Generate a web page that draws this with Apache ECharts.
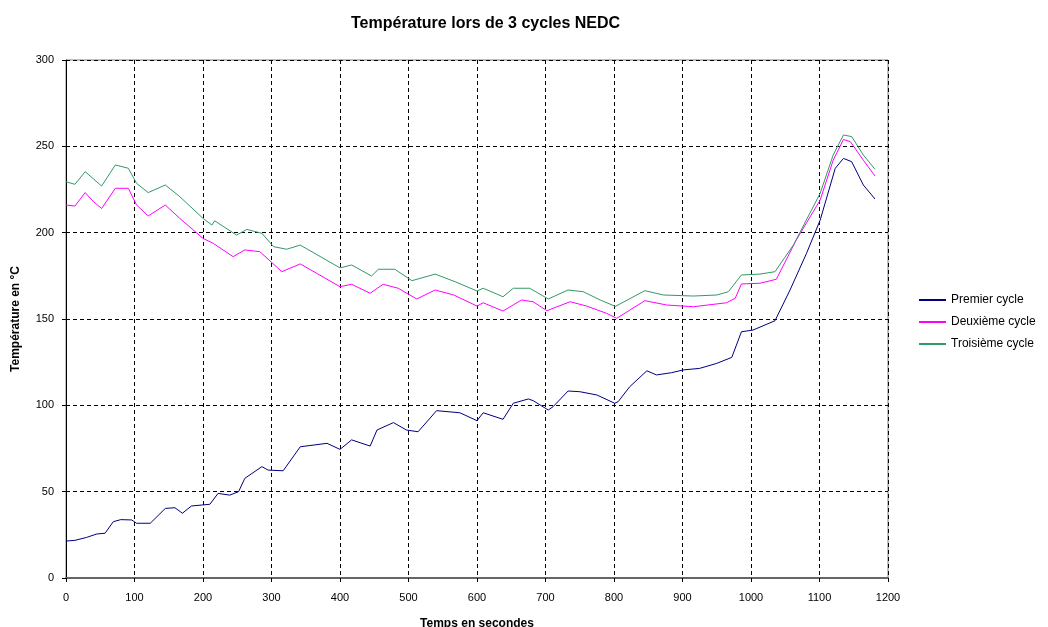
<!DOCTYPE html>
<html>
<head>
	<meta charset="utf-8">
	<title>Température lors de 3 cycles NEDC</title>
	<script type="text/javascript" src="https://cdn.jsdelivr.net/npm/echarts@6/dist/echarts.min.js"></script>
</head>
<body style="margin:0">
	<div id="main" style="width: 1048px;height: 627px"></div>
	<script type="text/javascript">
	// [temps (s), température (°C)]
	const premierCycle = [
		[0, 21.4], [13, 21.8], [30, 23.5], [45, 25.5], [57, 25.9], [69, 32.6], [80, 33.8], [96, 33.6],
		[103, 31.7], [123, 31.7], [145, 40.3], [159, 40.7], [170, 37.5], [183, 41.7], [210, 42.7],
		[222, 49], [239, 48], [252, 50], [261, 57.7], [286, 64.5], [295, 62.5], [317, 62.1],
		[342, 76], [381, 78], [400, 74.5], [417, 80], [444, 76.4], [454, 85.7], [478, 90],
		[497, 85.7], [514, 84.7], [541, 96.9], [575, 95.7], [600, 91.1], [609, 95.7], [638, 91.9],
		[653, 101.2], [675, 103.7], [682, 102.7], [704, 97.3], [711, 99.2], [733, 108.3],
		[750, 107.9], [775, 106], [801, 101.2], [806, 102.1], [823, 110.8], [848, 120],
		[862, 117.6], [884, 118.9], [901, 120.5], [925, 121.4], [950, 124.3], [972, 127.8],
		[986, 142.6], [1003, 143.6], [1035, 149], [1057, 166.8], [1081, 188], [1101, 207.3],
		[1123, 237.3], [1135, 243], [1147, 241.1], [1164, 227.6], [1181, 219.5]
	];
	const deuxiemeCycle = [
		[0, 216], [13, 215.4], [28, 223.2], [40, 218], [52, 214], [72, 225.7], [91, 225.7],
		[103, 216], [120, 209.7], [145, 216], [166, 208.3], [200, 196.7], [215, 193.8],
		[244, 186.1], [261, 190], [283, 189], [315, 177.4], [342, 181.9], [400, 168.7],
		[417, 170.1], [444, 164.9], [463, 170.1], [485, 167.8], [512, 161.6], [539, 166.8],
		[566, 163.9], [600, 157.5], [609, 159.4], [638, 154.6], [665, 161], [682, 160],
		[702, 154.8], [736, 160], [760, 157.5], [789, 153.3], [804, 150.4], [845, 160.6],
		[877, 158.1], [916, 157.1], [964, 159.4], [977, 162], [986, 170.3], [1013, 170.7],
		[1037, 173], [1066, 195.7], [1101, 218.9], [1120, 242], [1135, 254], [1145, 252.7],
		[1164, 242], [1181, 232.8]
	];
	const troisiemeCycle = [
		[0, 229.5], [13, 228], [28, 235.3], [52, 227], [72, 239.2], [91, 237.3], [103, 228.6],
		[120, 223.2], [145, 227.6], [166, 220.9], [200, 208.3], [213, 204.4], [217, 206.9],
		[249, 198.6], [264, 201.9], [286, 199.6], [303, 191.9], [322, 190.4], [342, 192.8],
		[400, 179.6], [417, 181.3], [446, 174.9], [456, 178.8], [480, 178.8], [505, 172.2],
		[539, 176], [568, 171.6], [600, 166.2], [609, 167.8], [638, 162.9], [653, 167.8],
		[677, 167.8], [704, 161.6], [733, 166.8], [755, 165.8], [780, 161], [802, 157.3],
		[845, 166.4], [872, 163.9], [916, 163.3], [950, 163.9], [967, 165.8], [986, 175.5],
		[1013, 176], [1035, 177.4], [1062, 192.9], [1101, 222.8], [1120, 245], [1135, 256.6],
		[1147, 255.6], [1164, 245], [1181, 236.7]
	];
	const nomsSeries = ['Premier cycle', 'Deuxième cycle', 'Troisième cycle'];
	const couleurs = ['#000080', '#ff00ff', '#339966'];

	const chart = echarts.init(document.getElementById('main'));

	const police = 'Arial, "Liberation Sans", sans-serif';
	const grille = {
		show: true,
		lineStyle: { color: '#000', type: [4, 3], width: 1 }
	};

	const option = {
		backgroundColor: '#fff',
		animation: false,
		textStyle: { fontFamily: police },
		title: {
			text: 'Température lors de 3 cycles NEDC',
			left: 346,
			top: 11,
			textStyle: { fontSize: 16, fontWeight: 'bold', color: '#000', fontFamily: police }
		},
		legend: {
			orient: 'vertical',
			left: 914,
			top: 289,
			itemWidth: 27,
			itemHeight: 2,
			itemGap: 10,
			icon: 'rect',
			textStyle: { fontSize: 12, color: '#000', fontFamily: police },
			data: nomsSeries
		},
		grid: {
			left: 66,
			right: 160,
			top: 60,
			bottom: 49,
			outerBoundsMode: 'none',
			containLabel: false,
			show: true,
			borderColor: '#808080',
			borderWidth: 1
		},
		xAxis: {
			type: 'value',
			min: 0,
			max: 1200,
			interval: 100,
			name: 'Temps en secondes',
			nameLocation: 'middle',
			nameGap: 40,
			nameTextStyle: { fontSize: 12, fontWeight: 'bold', color: '#000' },
			axisLine: { lineStyle: { color: '#666', width: 2 } },
			axisTick: { length: 4, lineStyle: { color: '#000' } },
			axisLabel: { fontSize: 11, color: '#000', margin: 14, formatter: function (v) { return String(v); } },
			splitLine: grille
		},
		yAxis: {
			type: 'value',
			min: 0,
			max: 300,
			interval: 50,
			name: 'Température en °C',
			nameLocation: 'middle',
			nameGap: 44,
			nameTextStyle: { fontSize: 12, fontWeight: 'bold', color: '#000' },
			axisLine: { show: true, lineStyle: { color: '#000', width: 1 } },
			axisTick: { show: true, length: 4, lineStyle: { color: '#000' } },
			axisLabel: { fontSize: 11, color: '#000', margin: 12 },
			splitLine: grille
		},
		series: [premierCycle, deuxiemeCycle, troisiemeCycle].map(function (d, i) {
			return {
				name: nomsSeries[i],
				type: 'line',
				data: d,
				showSymbol: false,
				symbol: 'none',
				color: couleurs[i],
				lineStyle: { width: 1, color: couleurs[i] }
			};
		})
	};

	chart.setOption(option);
	</script>
</body>
</html>
